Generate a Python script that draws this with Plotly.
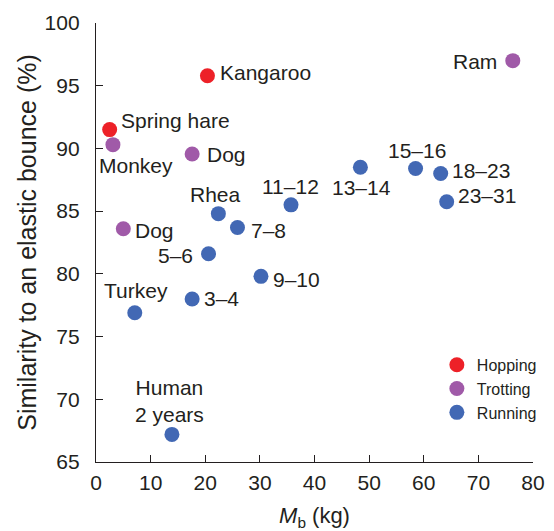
import plotly.graph_objects as go

# values: body mass (kg) vs similarity to elastic bounce (%)
hop_labels = ["Kangaroo", "Spring hare"]
hop_mass = [20.4, 2.5]
hop_sim = [95.8, 91.5]

trot_labels = ["Monkey", "Dog", "Dog", "Ram"]
trot_mass = [3.1, 17.6, 5.0, 76.3]
trot_sim = [90.3, 89.55, 83.6, 97.0]

run_labels = ["Rhea", "7–8", "5–6", "11–12", "13–14", "15–16", "18–23", "23–31",
              "9–10", "3–4", "Turkey", "Human<br>2 years"]
run_mass = [22.4, 25.9, 20.6, 35.7, 48.4, 58.5, 63.1, 64.2, 30.2, 17.6, 7.1, 13.9]
run_sim = [84.8, 83.7, 81.6, 85.5, 88.5, 88.4, 88.0, 85.75, 79.8, 78.0, 76.9, 67.2]

x_ticks = [0, 10, 20, 30, 40, 50, 60, 70, 80]
y_ticks = [65, 70, 75, 80, 85, 90, 95, 100]

# label placement: (xanchor, xshift, yshift) in pixels, one per point in order
hop_pos = [("left", 11, 3), ("left", 9, 9)]
trot_pos = [("center", 23, -21), ("left", 13, 0), ("left", 10, -2), ("right", -14, -1)]
run_pos = [("center", -3, 19), ("left", 12, -3), ("right", -14, -2), ("center", -1, 18),
           ("center", 1, -20), ("center", 1, 18), ("left", 9, 3), ("left", 9, 6),
           ("left", 10, -3), ("left", 10, 0), ("center", 1, 22), ("center", -2, 33)]

INK = "#231F20"
FONT = "Liberation Sans, Arial, sans-serif"

groups = [
    ("Hopping", "#ED2128", hop_mass, hop_sim, hop_labels, hop_pos),
    ("Trotting", "#A05AA8", trot_mass, trot_sim, trot_labels, trot_pos),
    ("Running", "#4268B4", run_mass, run_sim, run_labels, run_pos),
]

fig = go.Figure()
annotations = []
for name, color, xs, ys, labels, pos in groups:
    fig.add_trace(go.Scatter(
        x=xs, y=ys, mode="markers", name=name,
        marker=dict(size=15, color=color, line=dict(width=0)),
        cliponaxis=False
    ))
    for x, y, lab, (anchor, dx, dy) in zip(xs, ys, labels, pos):
        annotations.append(dict(
            x=x, y=y, xref="x", yref="y", text=lab, showarrow=False,
            xanchor=anchor, yanchor="middle", xshift=dx, yshift=dy,
            font=dict(size=21, color=INK, family=FONT)
        ))

axis_style = dict(
    showline=True, linewidth=1.3, linecolor=INK,
    ticks="inside", ticklen=7, tickwidth=1.3, tickcolor=INK,
    showgrid=False, zeroline=False, automargin=False,
    tickfont=dict(size=21, color=INK, family=FONT),
)

fig.update_xaxes(
    range=[0, 80], tickvals=x_ticks, ticklabelstandoff=2,
    title=dict(text="<i>M</i><sub>b</sub> (kg)", font=dict(size=22, color=INK, family=FONT), standoff=29),
    **axis_style
)
fig.update_yaxes(
    range=[65, 100], tickvals=y_ticks, ticklabelstandoff=11,
    title=dict(text="Similarity to an elastic bounce (%)", font=dict(size=25, color=INK, family=FONT), standoff=0),
    **axis_style
)

fig.update_layout(
    width=554, height=531,
    margin=dict(l=96, r=18, t=23, b=69),
    plot_bgcolor="white", paper_bgcolor="white",
    annotations=annotations,
    showlegend=True,
    legend=dict(
        x=0.78, y=0.26, xanchor="left", yanchor="top",
        font=dict(size=16, color=INK, family=FONT),
        bgcolor="rgba(0,0,0,0)", itemwidth=30, tracegroupgap=0
    ),
)

# the page's default body margin would push the figure 8px off the window
fig.write_html("out.html", config={"displayModeBar": False},
               post_script="document.body.style.margin = '0';")
